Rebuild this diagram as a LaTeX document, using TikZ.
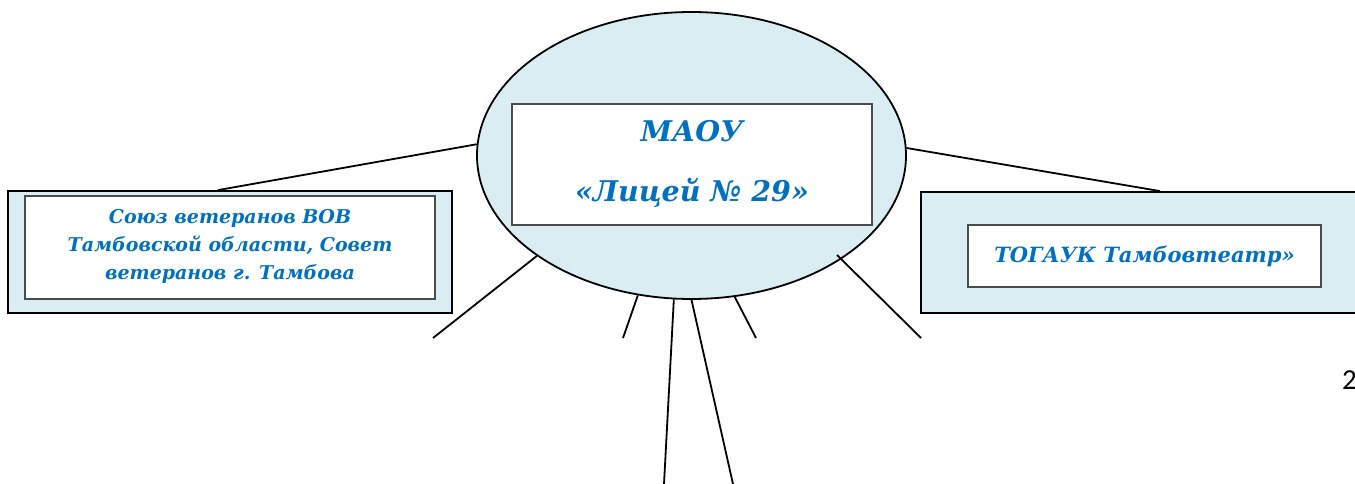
\documentclass[tikz,border=0pt]{standalone}
\usepackage{fontspec}
\setmainfont{DejaVu Serif}
\newfontfamily\digitfont{Carlito}
\usetikzlibrary{shapes.geometric}
\definecolor{paleblue}{RGB}{218,237,243}
\definecolor{textblue}{RGB}{0,112,192}

\begin{document}
\begin{tikzpicture}[x=1pt,y=-1pt,
    outerbox/.style={draw,line width=1.8pt,fill=paleblue,rectangle,inner sep=0pt},
    innerbox/.style={draw=black!70,line width=1.4pt,fill=white,rectangle,inner sep=0pt,
      align=center,text=textblue},
    link/.style={line width=1.8pt}]
  \useasboundingbox (0,0) rectangle (1355,484);

  % centre
  \node[ellipse,draw,line width=1.8pt,fill=paleblue,inner sep=0pt,
    minimum width=429pt,minimum height=287pt] (lyceum) at (691.5,155.5) {};
  \node[innerbox,minimum width=360pt,minimum height=121pt,
    font=\bfseries\itshape\fontsize{28.5}{34}\selectfont] (lyceumname) at (692,164.5)
    {МАОУ\\[26pt]«Лицей № 29»};

  % partners
  \node[outerbox,minimum width=444pt,minimum height=122pt] (veterans) at (230,252) {};
  \node[innerbox,minimum width=410pt,minimum height=103pt,
    font=\bfseries\itshape\fontsize{19}{28}\selectfont] (veteransname) at (230,247.5)
    {Союз ветеранов ВОВ\\Тамбовской области, Совет\\ветеранов г. Тамбова\rule[-6pt]{0pt}{6pt}};
  \node[outerbox,minimum width=454pt,minimum height=121pt] (theatre) at (1148,252.5) {};
  \node[innerbox,minimum width=353pt,minimum height=62pt,
    font=\bfseries\itshape\fontsize{21}{28}\selectfont] (theatrename) at (1144.5,256)
    {ТОГАУК Тамбовтеатр»};

  \node[anchor=west,inner sep=0pt,font=\digitfont\fontsize{29}{34}\selectfont] (pagenum) at (1342,380) {2};

  % free ends
  \coordinate (endll) at (433,338);
  \coordinate (endlr) at (921,338);
  \coordinate (endsa) at (623,338);
  \coordinate (endsb) at (664,484);
  \coordinate (endsc) at (733,484);
  \coordinate (endsd) at (756,338);
  \coordinate (ticklr) at (837,255);

  \draw[link] (lyceum.177.5) -- ([xshift=-12pt]veterans.north);
  \draw[link] (lyceum.2.5) -- ([xshift=12pt]theatre.north);
  \draw[link] (lyceum.213.5) -- (endll);
  \draw[link] (ticklr) -- (endlr);
  \draw[link] (lyceum.-111.8) -- (endsa);
  \draw[link] (lyceum.-97.7) -- (endsb);
  \draw[link] (lyceum.-90.6) -- (endsc);
  \draw[link] (lyceum.-73.9) -- (endsd);
\end{tikzpicture}
\end{document}
